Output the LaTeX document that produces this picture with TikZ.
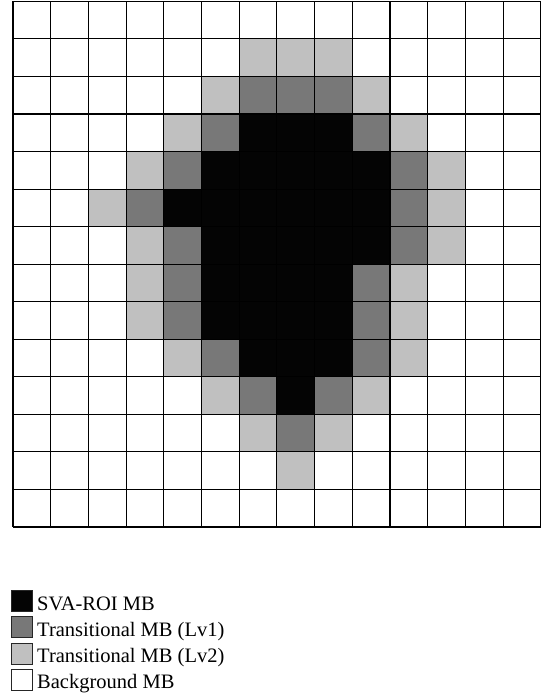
\documentclass[tikz,border=0pt]{standalone}
\usepackage{fontspec}
\setmainfont{Liberation Serif}
\usetikzlibrary{positioning,calc}
\definecolor{RoiBlack}{RGB}{4,4,4}
\definecolor{LvOneGray}{RGB}{120,120,120}
\definecolor{LvTwoGray}{RGB}{192,192,192}
\tikzset{
  gridline/.style={line width=1.1pt,draw=black},
  roicell/.style={fill=RoiBlack},
  lvonecell/.style={fill=LvOneGray},
  lvtwocell/.style={fill=LvTwoGray},
  swatch/.style={draw=black!85,line width=1pt,minimum size=21pt,inner sep=0pt},
  legendtext/.style={font=\fontsize{20.5}{24}\selectfont,inner sep=0pt,anchor=base west}
}
\begin{document}
\begin{tikzpicture}[x=1pt,y=-1pt]
  \useasboundingbox (0,0) rectangle (544,696);

  % macroblock grid, one unit per cell
  \begin{scope}[xshift=13pt,yshift=-1.3pt,x=37.7pt,y=-37.55pt]
    \foreach \r/\a/\b in {3/6/8,4/5/9,5/4/9,6/5/9,7/5/8,8/5/8,9/6/8,10/7/7}
      \fill[roicell] (\a,\r) rectangle (\b+1,\r+1);
    \foreach \r/\c in {2/6,2/7,2/8,3/5,3/9,4/4,4/10,5/3,5/10,6/4,6/10,
                       7/4,7/9,8/4,8/9,9/5,9/9,10/6,10/8,11/7}
      \fill[lvonecell] (\c,\r) rectangle ++(1,1);
    \foreach \r/\c in {1/6,1/7,1/8,2/5,2/9,3/4,3/10,4/3,4/11,5/2,5/11,6/3,6/11,
                       7/3,7/10,8/3,8/10,9/4,9/10,10/5,10/9,11/6,11/8,12/7}
      \fill[lvtwocell] (\c,\r) rectangle ++(1,1);
    \foreach \i in {0,...,14} {
      \draw[gridline] (\i,0) -- (\i,14);
      \draw[gridline] (0,\i) -- (14,\i);
    }
  \end{scope}

  % legend
  \node[swatch,fill=RoiBlack] (swroi) at (22,601) {};
  \node[swatch,fill=LvOneGray,below=4.3pt of swroi] (swlvone) {};
  \node[swatch,fill=LvTwoGray,below=4.3pt of swlvone] (swlvtwo) {};
  \node[swatch,fill=white,below=4.3pt of swlvtwo] (swbg) {};

  \node[legendtext] (txroi) at ($(swroi.south east)+(4pt,2pt)$) {SVA-ROI MB};
  \node[legendtext] (txlvone) at ($(swlvone.south east)+(4pt,2pt)$) {Transitional MB (Lv1)};
  \node[legendtext] (txlvtwo) at ($(swlvtwo.south east)+(4pt,2pt)$) {Transitional MB (Lv2)};
  \node[legendtext] (txbg) at ($(swbg.south east)+(4pt,2pt)$) {Background MB};
\end{tikzpicture}
\end{document}
